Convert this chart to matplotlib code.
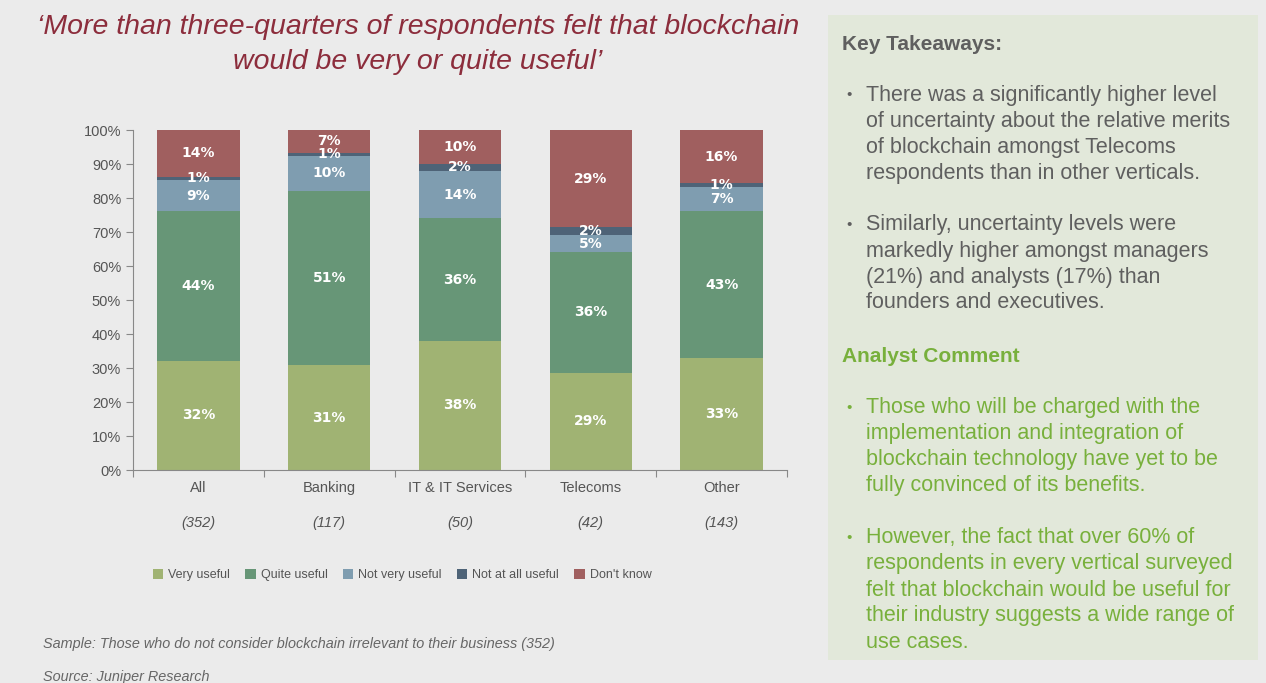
import numpy as np
import matplotlib.pyplot as plt
from matplotlib.patches import Rectangle

plt.rcParams["font.family"] = ["Liberation Sans", "DejaVu Sans"]

# Data (percent of respondents per vertical)
categories = ["All", "Banking", "IT & IT Services", "Telecoms", "Other"]
sample_sizes = ["(352)", "(117)", "(50)", "(42)", "(143)"]
series_names = ["Very useful", "Quite useful", "Not very useful", "Not at all useful", "Don't know"]
very_useful = [32.1, 30.8, 38.0, 28.6, 32.9]
quite_useful = [44.0, 51.3, 36.0, 35.6, 43.2]
not_very_useful = [9.1, 10.3, 14.0, 4.8, 7.0]
not_at_all_useful = [1.1, 0.9, 2.0, 2.4, 1.3]
dont_know = [13.7, 6.7, 10.0, 28.6, 15.6]
colors = ["#a0b373", "#679677", "#7f9db0", "#4e6377", "#a05f5f"]

series = [very_useful, quite_useful, not_very_useful, not_at_all_useful, dont_know]

fig = plt.figure(figsize=(12.66, 6.83), dpi=100)
fig.patch.set_facecolor("#ebebeb")

# Right-hand text panel
fig.patches.append(Rectangle((828 / 1266, 1 - 660 / 683), 430 / 1266, 645 / 683,
                             transform=fig.transFigure, facecolor="#e2e8da",
                             edgecolor="none", zorder=0))

ax = fig.add_axes([133 / 1266, 1 - 470 / 683, 654 / 1266, 340 / 683])
ax.set_facecolor("none")

x = np.arange(len(categories))
bottom = np.zeros(len(categories))
for name, vals, c in zip(series_names, series, colors):
    vals = np.array(vals)
    ax.bar(x, vals, 0.63, bottom=bottom, color=c, label=name, zorder=2)
    for xi, b, v in zip(x, bottom, vals):
        ax.text(xi, b + v / 2, f"{round(v):.0f}%", ha="center", va="center",
                color="white", fontsize=10, fontweight="bold", zorder=3,
                family="DejaVu Sans")
    bottom += vals

ax.set_xlim(-0.5, len(categories) - 0.5)
ax.set_ylim(0, 100)
ax.set_yticks(np.arange(0, 101, 10))
ax.set_yticklabels([f"{v}%" for v in range(0, 101, 10)], fontsize=10.5)
ax.set_xticks(np.arange(-0.5, len(categories), 1.0))
ax.set_xticklabels([])
ax.tick_params(axis="both", colors="#888888", length=5, width=0.8)
ax.tick_params(axis="y", labelcolor="#555555")
for s in ["top", "right"]:
    ax.spines[s].set_visible(False)
for s in ["left", "bottom"]:
    ax.spines[s].set_color("#888888")

for xi, cat, n in zip(x, categories, sample_sizes):
    ax.annotate(cat, (xi, 0), xytext=(0, -13), textcoords="offset points",
                ha="center", va="center", color="#555555", fontsize=10.5)
    ax.annotate(n, (xi, 0), xytext=(0, -38.5), textcoords="offset points",
                ha="center", va="center", color="#555555", fontsize=10.5, style="italic")

fig.legend(loc="center", bbox_to_anchor=(402 / 1266, 1 - 575 / 683), ncol=5,
           frameon=False, fontsize=9, handlelength=0.85, handleheight=0.85,
           handletextpad=0.4, columnspacing=1.2, labelcolor="#555555")

# Title
title_kw = dict(ha="center", va="center", fontsize=20.5, style="italic", color="#8c2d3c")
fig.text(418 / 1266, 1 - 27 / 683,
         "\u2018More than three-quarters of respondents felt that blockchain", **title_kw)
fig.text(418 / 1266, 1 - 62 / 683, "would be very or quite useful\u2019", **title_kw)

# Right panel text
gray = "#5f5f5f"
green = "#78b03c"
fig.text(842 / 1266, 1 - 45 / 683, "Key Takeaways:", ha="left", va="center",
         fontsize=15, fontweight="bold", color=gray)

takeaways = [
    ["There was a significantly higher level", "of uncertainty about the relative merits",
     "of blockchain amongst Telecoms", "respondents than in other verticals."],
    ["Similarly, uncertainty levels were", "markedly higher amongst managers",
     "(21%) and analysts (17%) than", "founders and executives."],
]
comments = [
    ["Those who will be charged with the", "implementation and integration of",
     "blockchain technology have yet to be", "fully convinced of its benefits."],
    ["However, the fact that over 60% of", "respondents in every vertical surveyed",
     "felt that blockchain would be useful for", "their industry suggests a wide range of",
     "use cases."],
]


def bullets(blocks, y0, color):
    y = y0
    for lines in blocks:
        fig.text(846 / 1266, 1 - y / 683, "\u2022", ha="left", va="center",
                 fontsize=11, color=color)
        for line in lines:
            fig.text(866 / 1266, 1 - y / 683, line, ha="left", va="center",
                     fontsize=15.5, color=color)
            y += 26
        y += 26


bullets(takeaways, 95, gray)
fig.text(842 / 1266, 1 - 356 / 683, "Analyst Comment", ha="left", va="center",
         fontsize=15, fontweight="bold", color=green)
bullets(comments, 408, green)

# Footnotes
fig.text(43 / 1266, 1 - 644 / 683,
         "Sample: Those who do not consider blockchain irrelevant to their business (352)",
         ha="left", va="center", fontsize=10.4, style="italic", color="#666666")
fig.text(43 / 1266, 1 - 677 / 683, "Source: Juniper Research", ha="left", va="center",
         fontsize=10.4, style="italic", color="#666666")

fig.savefig("out.png", dpi=100, facecolor=fig.get_facecolor())
